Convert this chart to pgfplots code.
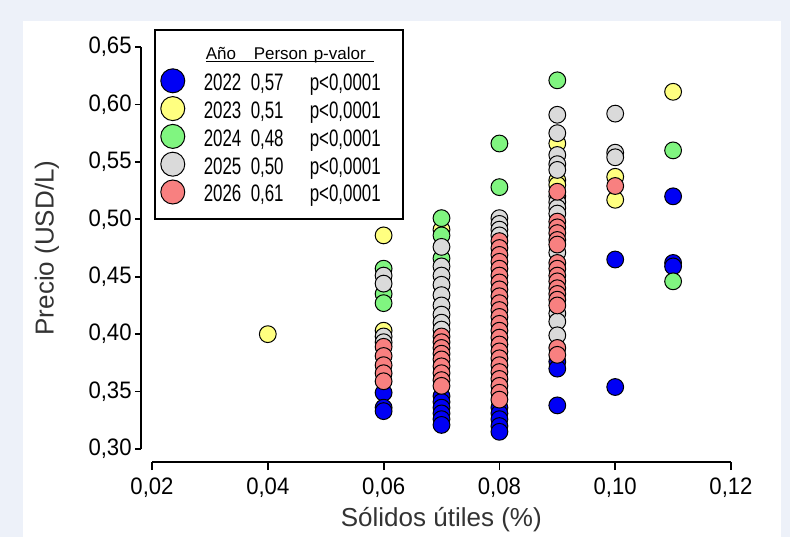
\documentclass[border=0pt]{standalone}
\usepackage{fontspec}
\setmainfont{Liberation Sans}
\newfontfamily\tickfont[FakeStretch=0.93]{Liberation Sans}
\newfontfamily\legfont[FakeStretch=0.71]{Liberation Sans}
\usepackage{pgfplots}
\pgfplotsset{compat=1.18}

\definecolor{pagebg}{HTML}{EDF1F9}
\definecolor{c2022}{HTML}{0000F5}
\definecolor{c2023}{HTML}{FFFF80}
\definecolor{c2024}{HTML}{80F580}
\definecolor{c2025}{HTML}{DADADA}
\definecolor{c2026}{HTML}{F88080}
\definecolor{labelgray}{HTML}{333333}

% legend rows: year, Pearson coefficient, p-value (fixed column widths)
\newcommand{\legstrut}{\rule[-0.3pt]{0pt}{9pt}}
\newcommand{\legrow}[3]{\legstrut\smash{\raisebox{-1.3pt}{\legfont\fontsize{11.9}{13}\selectfont
  \makebox[23.5pt][l]{#1}\makebox[29.5pt][l]{#2}\makebox[43.5pt][l]{#3}}}}
\newcommand{\leghead}{\legstrut\smash{\raisebox{1.2pt}{\fontsize{8.5}{10}\selectfont
  \makebox[96.5pt][l]{\hspace*{1pt}\rlap{\rule[-1.2pt]{84pt}{0.7pt}}\makebox[24pt][l]{Año}\makebox[30pt][l]{Person}p-valor}}}}

\pgfplotstableread{
x y
0.06 0.349
0.06 0.336
0.06 0.333
0.07 0.346
0.07 0.341
0.07 0.336
0.07 0.331
0.07 0.326
0.07 0.321
0.08 0.336
0.08 0.331
0.08 0.326
0.08 0.320
0.08 0.315
0.09 0.376
0.09 0.370
0.09 0.338
0.10 0.465
0.10 0.354
0.11 0.520
0.11 0.462
0.11 0.459
}\yearA

\pgfplotstableread{
x y
0.04 0.400
0.06 0.486
0.06 0.403
0.07 0.491
0.09 0.566
0.09 0.534
0.09 0.530
0.10 0.537
0.10 0.517
0.11 0.611
}\yearB

\pgfplotstableread{
x y
0.06 0.457
0.06 0.435
0.06 0.427
0.07 0.501
0.07 0.486
0.07 0.466
0.08 0.566
0.08 0.528
0.09 0.621
0.11 0.560
0.11 0.446
}\yearC

\pgfplotstableread{
x y
0.06 0.451
0.06 0.444
0.06 0.398
0.06 0.393
0.07 0.476
0.07 0.459
0.07 0.451
0.07 0.443
0.07 0.434
0.07 0.425
0.07 0.417
0.07 0.410
0.07 0.404
0.08 0.501
0.08 0.496
0.08 0.491
0.08 0.486
0.09 0.591
0.09 0.575
0.09 0.556
0.09 0.548
0.09 0.543
0.09 0.520
0.09 0.515
0.09 0.510
0.09 0.505
0.09 0.471
0.09 0.418
0.09 0.411
0.09 0.399
0.10 0.592
0.10 0.558
0.10 0.554
}\yearD

\pgfplotstableread{
x y
0.06 0.389
0.06 0.381
0.06 0.373
0.06 0.366
0.06 0.359
0.07 0.398
0.07 0.393
0.07 0.388
0.07 0.383
0.07 0.378
0.07 0.372
0.07 0.366
0.07 0.360
0.07 0.355
0.08 0.481
0.08 0.475
0.08 0.469
0.08 0.463
0.08 0.457
0.08 0.451
0.08 0.445
0.08 0.439
0.08 0.433
0.08 0.427
0.08 0.421
0.08 0.415
0.08 0.409
0.08 0.403
0.08 0.397
0.08 0.391
0.08 0.385
0.08 0.379
0.08 0.373
0.08 0.367
0.08 0.361
0.08 0.355
0.08 0.349
0.08 0.343
0.09 0.524
0.09 0.498
0.09 0.493
0.09 0.488
0.09 0.482
0.09 0.478
0.09 0.462
0.09 0.457
0.09 0.451
0.09 0.446
0.09 0.440
0.09 0.435
0.09 0.430
0.09 0.425
0.09 0.388
0.09 0.382
0.10 0.529
}\yearE

\begin{document}
\begin{tikzpicture}
% page background and white panel
\fill[pagebg] (-70.5pt,-37.5pt) rectangle (324.5pt,231pt);
\fill[white] (-59pt,-37.5pt) rectangle (320pt,220.5pt);
\begin{axis}[
  at={(0pt,0pt)}, anchor=south west,
  scale only axis, width=295pt, height=207.5pt,
  xmin=0.0181, xmax=0.12, ymin=0.2887, ymax=0.65,
  clip=false,
  axis line style={draw=none},
  tick pos=left, tick align=outside,
  major tick length=3pt,
  tick style={black, line width=0.9pt},
  xtick style={/pgfplots/major tick length=4pt},
  xtick={0.02,0.04,0.06,0.08,0.10,0.12},
  ytick={0.30,0.35,0.40,0.45,0.50,0.55,0.60,0.65},
  minor tick num=0,
  /pgf/number format/.cd, use comma, fixed, fixed zerofill, precision=2, assume math mode=true,
  /pgfplots/.cd,
  tick label style={font=\tickfont\fontsize{11.9}{13}\selectfont, text=black},
  yticklabel style={inner xsep=1.5pt},
  xticklabel style={inner ysep=4.5pt},
  xlabel={Sólidos útiles (\%)},
  ylabel={Precio (USD/L)},
  label style={font=\fontsize{13}{15}\selectfont, text=labelgray},
  xlabel style={at={(axis description cs:0.509,-0.1398)}, anchor=center},
  ylabel style={at={(axis description cs:-0.1593,0.5157)}, anchor=center},
  legend cell align=left,
  legend image code/.code={\draw[#1, mark size=6pt] plot coordinates {(0pt,0pt)};},
  legend style={at={(axis description cs:0.022,1.0434)}, anchor=north west,
    draw=black, line width=0.8pt, fill=white,
    inner xsep=3pt, inner ysep=7.4pt, row sep=1.9pt, column sep=9.5pt,
    nodes={inner sep=0pt, text=black}},
  every axis plot/.append style={only marks, mark=*, mark size=4.2pt},
]
\addlegendimage{empty legend}
\addlegendentry{\leghead}

\addplot[mark options={fill=c2022, draw=black, line width=0.5pt}] table {\yearA};
\addlegendentry{\legrow{2022}{0,57}{p<0,0001}}
\addplot[mark options={fill=c2023, draw=black, line width=0.5pt}] table {\yearB};
\addlegendentry{\legrow{2023}{0,51}{p<0,0001}}
\addplot[mark options={fill=c2024, draw=black, line width=0.5pt}] table {\yearC};
\addlegendentry{\legrow{2024}{0,48}{p<0,0001}}
\addplot[mark options={fill=c2025, draw=black, line width=0.5pt}] table {\yearD};
\addlegendentry{\legrow{2025}{0,50}{p<0,0001}}
\addplot[mark options={fill=c2026, draw=black, line width=0.5pt}] table {\yearE};
\addlegendentry{\legrow{2026}{0,61}{p<0,0001}}

% detached axis lines spanning the ticked ranges only
\draw[black, line width=1pt] (axis cs:0.0181,0.30) -- (axis cs:0.0181,0.65);
\draw[black, line width=1pt] (axis cs:0.02,0.2887) -- (axis cs:0.12,0.2887);
\end{axis}
\pgfresetboundingbox
\path (-70.5pt,-37.5pt) rectangle (324.5pt,231pt);
\end{tikzpicture}
\end{document}
